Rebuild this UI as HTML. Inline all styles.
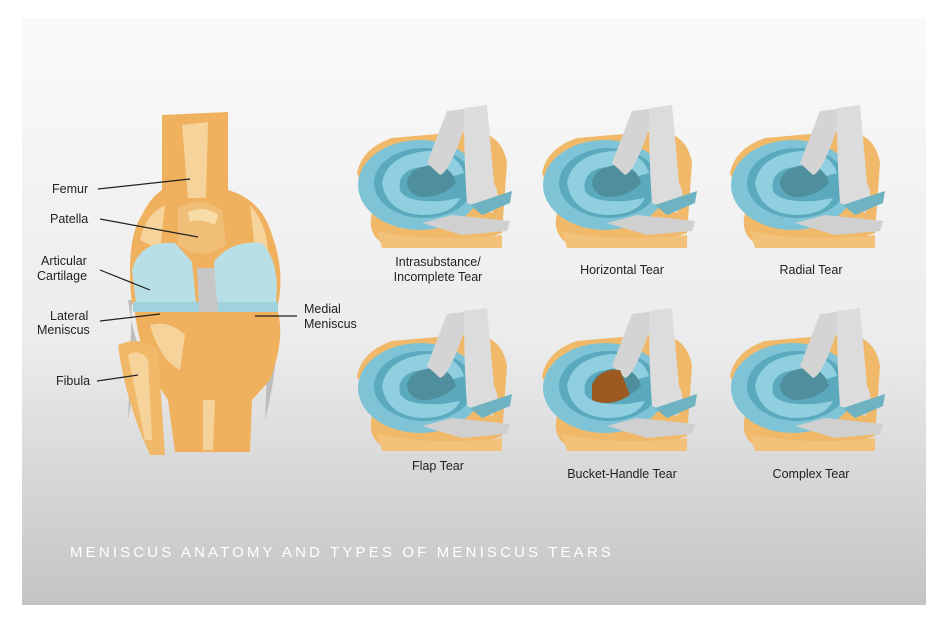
<!DOCTYPE html>
<html><head><style>
body{margin:0;background:#fff;width:948px;height:627px;overflow:hidden}
svg{display:block}
text{font-family:"Liberation Sans",sans-serif;fill:#222;font-size:12.5px}
</style></head><body>
<svg width="948" height="627" viewBox="0 0 948 627">
<defs>
<linearGradient id="bg" x1="0" y1="0" x2="0" y2="1">
<stop offset="0" stop-color="#fafafa"/><stop offset="0.55" stop-color="#ececec"/><stop offset="1" stop-color="#c4c4c4"/>
</linearGradient>
<g id="men">
<path d="M5,70 Q10,45 40,35 L120,28 Q150,30 155,60 L150,130 Q100,148 30,140 Q15,130 20,110 Z" fill="#f0b96a"/>
<path d="M25,128 Q80,140 150,132 L150,145 L30,145 Z" fill="#f3c27a"/>
<ellipse cx="68" cy="82" rx="62" ry="45" fill="#7fc4d6"/>
<ellipse cx="72" cy="80" rx="50" ry="35" fill="#5aa9bd"/>
<path d="M30,80 Q35,52 75,48 Q105,48 112,70 L95,75 Q80,60 60,66 Q45,72 48,88 Q55,100 90,98 L108,95 Q100,112 70,112 Q35,110 30,80Z" fill="#8fcfdf"/>
<path d="M55,78 Q60,62 85,62 Q100,65 104,80 Q90,95 68,94 Q55,90 55,78Z" fill="#4f8f9d"/>
<path d="M75,60 L95,8 L120,5 L105,45 Q95,70 88,72Z" fill="#d4d4d4"/>
<path d="M112,5 L135,2 L142,80 Q150,95 140,110 L115,100 Q112,60 112,5Z" fill="#dcdcdc"/>
<path d="M70,120 L100,112 L158,118 L155,128 L110,132 Z" fill="#d0d0d0"/>
<path d="M118,102 L160,88 L158,100 L130,112Z" fill="#6fb3c3"/>
</g>
</defs>
<rect x="22" y="18" width="904" height="587" fill="url(#bg)"/>
<g>
<path d="M128,300 Q132,330 140,350 L128,420 L132,300Z" fill="#bdbdbd"/>
<path d="M272,290 Q285,340 265,420 L270,300Z" fill="#bdbdbd"/>
<path d="M162,115 L228,112 L228,190 Q262,200 272,235 Q285,270 278,305 L132,305 Q125,240 142,215 Q150,198 162,190 Z" fill="#efb15e"/>
<path d="M182,125 L208,122 L206,198 L188,198Z" fill="#f6d39b"/>
<path d="M140,240 Q145,215 165,205 L160,250Z" fill="#f6d39b"/>
<path d="M250,205 Q268,225 268,255 L255,250Z" fill="#f6d39b"/>
<path d="M178,208 Q198,195 222,210 L226,245 Q200,262 178,245 Z" fill="#f1be78"/>
<path d="M188,212 Q205,205 218,215 L215,225 Q200,218 190,222Z" fill="#f8dca8"/>
<path d="M132,270 Q140,240 175,243 L192,262 L196,302 L136,304 Z" fill="#b9dfe6"/>
<path d="M214,262 Q230,240 262,243 Q280,262 276,302 L216,304 Z" fill="#b9dfe6"/>
<rect x="133" y="302" width="145" height="10" fill="#9fd2dc"/>
<path d="M197,268 L214,268 L220,330 L200,330Z" fill="#c7c7c7"/>
<path d="M135,312 L278,312 Q285,340 270,380 L252,400 L250,452 L175,452 L168,400 Q140,360 135,312Z" fill="#efb15e"/>
<path d="M150,325 Q170,320 185,335 L180,370 Q160,360 150,325Z" fill="#f6d39b"/>
<path d="M203,400 L215,400 L213,450 L203,450Z" fill="#f6d39b"/>
<path d="M118,345 Q140,335 158,350 L165,455 L150,455 Q125,400 118,345Z" fill="#f0b96a"/>
<path d="M128,355 Q140,348 148,360 L152,440 L145,440Z" fill="#f6d39b"/>
</g>
<g stroke="#222" stroke-width="1.2">
<line x1="98" y1="189" x2="190" y2="179"/>
<line x1="100" y1="219" x2="198" y2="237"/>
<line x1="100" y1="270" x2="150" y2="290"/>
<line x1="100" y1="321" x2="160" y2="314"/>
<line x1="255" y1="316" x2="297" y2="316"/>
<line x1="97" y1="381" x2="138" y2="375"/>
</g>
<text x="52" y="193">Femur</text>
<text x="50" y="223">Patella</text>
<text x="41" y="265">Articular</text>
<text x="37" y="280">Cartilage</text>
<text x="50" y="320">Lateral</text>
<text x="37" y="334">Meniscus</text>
<text x="304" y="313">Medial</text>
<text x="304" y="328">Meniscus</text>
<text x="56" y="385">Fibula</text>
<use href="#men" x="352" y="103"/>
<use href="#men" x="537" y="103"/>
<use href="#men" x="725" y="103"/>
<use href="#men" x="352" y="306"/>
<use href="#men" x="537" y="306"/>
<use href="#men" x="725" y="306"/>
<path d="M592,385 Q600,368 620,370 L630,395 Q610,408 592,400Z" fill="#9c5a22"/>
<text x="438" y="266" text-anchor="middle">Intrasubstance/</text>
<text x="438" y="281" text-anchor="middle">Incomplete Tear</text>
<text x="622" y="274" text-anchor="middle">Horizontal Tear</text>
<text x="811" y="274" text-anchor="middle">Radial Tear</text>
<text x="438" y="470" text-anchor="middle">Flap Tear</text>
<text x="622" y="478" text-anchor="middle">Bucket-Handle Tear</text>
<text x="811" y="478" text-anchor="middle">Complex Tear</text>
<text x="70" y="557" style="fill:#fff;font-size:15px;letter-spacing:3.15px">MENISCUS ANATOMY AND TYPES OF MENISCUS TEARS</text>
</svg>
</body></html>
